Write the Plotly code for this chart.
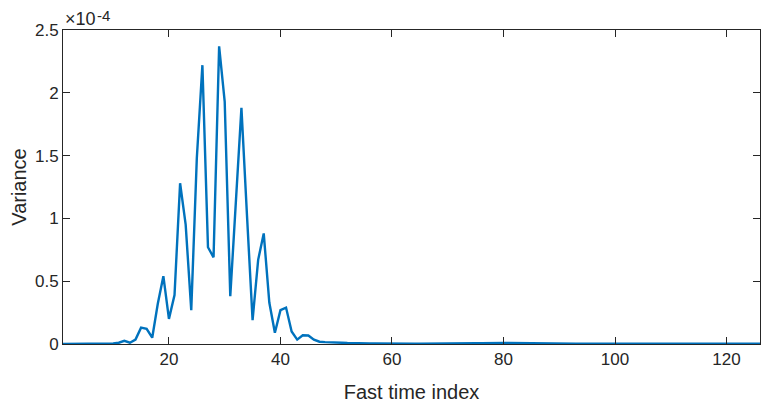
import plotly.graph_objects as go

# fast time index 1..126, variance in units of 1e-4
fast_time_index = list(range(1, 127))
variance_e4 = [
    0.0, 0.0, 0.0, 0.0, 0.0, 0.001, 0.002, 0.002, 0.003, 0.005,      # 1-10
    0.01, 0.025, 0.01, 0.035, 0.13, 0.12, 0.05, 0.32, 0.54, 0.2,     # 11-20
    0.39, 1.28, 0.95, 0.27, 1.48, 2.22, 0.77, 0.69, 2.37, 1.93,      # 21-30
    0.38, 1.15, 1.88, 1.02, 0.19, 0.67, 0.88, 0.33, 0.09, 0.27,      # 31-40
    0.29, 0.1, 0.035, 0.07, 0.068, 0.035, 0.018, 0.015, 0.015, 0.015,  # 41-50
    0.01, 0.008, 0.006, 0.005, 0.005, 0.004, 0.004, 0.003, 0.003, 0.003,  # 51-60
    0.003, 0.002, 0.003, 0.002, 0.003, 0.004, 0.004, 0.005, 0.006, 0.007,  # 61-70
    0.008, 0.008, 0.009, 0.008, 0.007, 0.006, 0.005, 0.006, 0.007, 0.008,  # 71-80
    0.008, 0.007, 0.006, 0.005, 0.005, 0.004, 0.004, 0.003, 0.003, 0.004,  # 81-90
    0.003, 0.003, 0.002, 0.003, 0.002, 0.002, 0.003, 0.002, 0.002, 0.002,  # 91-100
    0.002, 0.002, 0.003, 0.002, 0.002, 0.002, 0.002, 0.002, 0.002, 0.002,  # 101-110
    0.002, 0.002, 0.002, 0.002, 0.002, 0.002, 0.002, 0.002, 0.002, 0.002,  # 111-120
    0.002, 0.002, 0.002, 0.002, 0.002, 0.002,                        # 121-126
]

x_ticks = [20, 40, 60, 80, 100, 120]
y_ticks = [0, 0.5, 1, 1.5, 2, 2.5]
y_tick_labels = ["0", "0.5", "1", "1.5", "2", "2.5"]

axis_color = "#262626"
font_family = "Liberation Sans, Arial, Helvetica, sans-serif"

fig = go.Figure()
fig.add_trace(
    go.Scatter(
        x=fast_time_index,
        y=variance_e4,
        mode="lines",
        line=dict(color="#0072BD", width=2.4),
        showlegend=False,
    )
)

common_axis = dict(
    showline=True,
    linecolor=axis_color,
    linewidth=1,
    mirror="ticks",
    ticks="inside",
    ticklen=7,
    tickwidth=1,
    tickcolor=axis_color,
    showgrid=False,
    zeroline=False,
    tickfont=dict(size=17, color=axis_color, family=font_family),
)

fig.update_xaxes(
    range=[1, 126],
    tickvals=x_ticks,
    title=dict(text="Fast time index", font=dict(size=20, color=axis_color, family=font_family), standoff=16),
    **common_axis,
)
fig.update_yaxes(
    range=[0, 2.5],
    tickvals=y_ticks,
    ticktext=y_tick_labels,
    title=dict(text="Variance", font=dict(size=20, color=axis_color, family=font_family), standoff=2),
    **common_axis,
)

# MATLAB-style exponent label, base and exponent drawn separately
fig.add_annotation(
    x=0, y=1, xref="paper", yref="paper",
    xanchor="left", yanchor="bottom",
    xshift=0, yshift=-1,
    text="\u00d710",
    showarrow=False,
    font=dict(size=18, color=axis_color, family=font_family),
)
fig.add_annotation(
    x=0, y=1, xref="paper", yref="paper",
    xanchor="left", yanchor="bottom",
    xshift=32, yshift=4,
    text="-4",
    showarrow=False,
    font=dict(size=15, color=axis_color, family=font_family),
)

fig.update_layout(
    width=773,
    height=403,
    margin=dict(l=63, r=13, t=30, b=59, autoexpand=False),
    plot_bgcolor="white",
    paper_bgcolor="white",
    font=dict(family=font_family, color=axis_color),
)

# drop the page's default body margin so the figure fills the window
fig.write_html(
    "out.html",
    config={"displayModeBar": False},
    post_script="document.body.style.margin='0';document.body.style.overflow='hidden';",
)
